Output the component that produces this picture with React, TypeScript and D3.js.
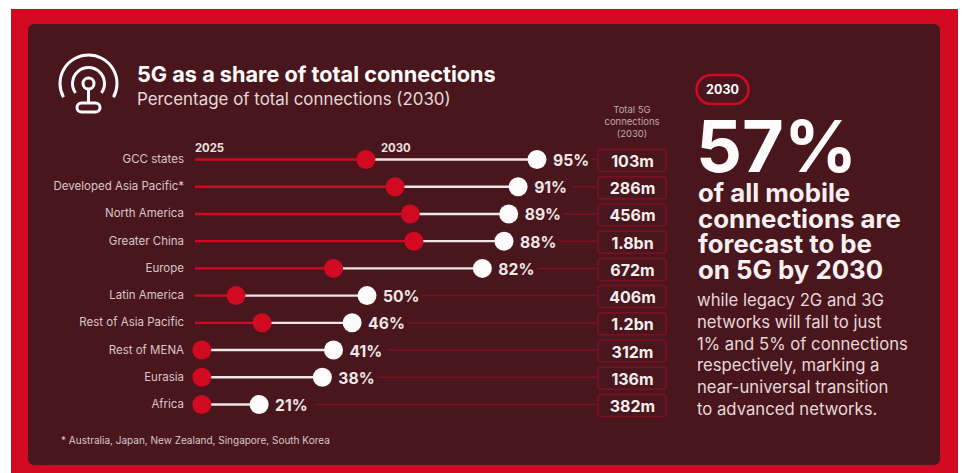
import React from "react";
import * as d3 from "d3";

const regions = ["GCC states", "Developed Asia Pacific*", "North America", "Greater China", "Europe", "Latin America", "Rest of Asia Pacific", "Rest of MENA", "Eurasia", "Africa"];
const share2025 = [49.7, 57.8, 62, 63, 41, 14.8, 21.8, 5.6, 5.6, 5.6];
const share2030 = [95, 91, 89, 88, 82, 50, 46, 41, 38, 21];
const totals2030 = ["103m", "286m", "456m", "1.8bn", "672m", "406m", "1.2bn", "312m", "136m", "382m"];
const headlineLines = ["of all mobile", "connections are", "forecast to be", "on 5G by 2030"];
const bodyLines = ["while legacy 2G and 3G", "networks will fall to just", "1% and 5% of connections", "respectively, marking a", "near-universal transition", "to advanced networks."];
const columnHeader = ["Total 5G", "connections", "(2030)"];

const RED = "#d10a22";
const PANEL = "#4a161d";
const DIM_RED = "#7c1022";
const WHITE = "#fdfbfb";
const FONT = "Inter, sans-serif";

// The track is not evenly spaced across its length, so the scale has a few stops.
const x = d3.scaleLinear().domain([0, 50, 88, 95]).range([181, 367, 504, 537]);
const y = d3.scalePoint<string>().domain(regions).range([159.5, 404.5]);
const lineStart = 195;
const boxLeft = 598;
const boxWidth = 68;
const boxHeight = 22;

const tau = Math.PI * 2;
const outerArc = d3.arc()({ innerRadius: 28.5, outerRadius: 28.5, startAngle: -tau * 0.33, endAngle: tau * 0.33 });
const innerArc = d3.arc()({ innerRadius: 16, outerRadius: 16, startAngle: -tau * 0.35, endAngle: tau * 0.35 });

function AntennaIcon() {
  return (
    <g transform="translate(88.5,83.5)" fill="none" stroke={WHITE} strokeWidth={3} strokeLinecap="round">
      <path d={outerArc ?? ""} />
      <path d={innerArc ?? ""} />
      <circle r={5.5} />
      <path d="M0,6V19" />
      <rect x={-11.5} y={19.5} width={23} height={9} rx={4.5} />
    </g>
  );
}

export default function App() {
  return (
    <svg width={962} height={473} style={{ position: "absolute", left: 0, top: 0, display: "block" }} fontFamily={FONT}>
      <rect width={962} height={473} fill="#ffffff" />
      <rect x={11} y={9} width={947} height={464} fill={RED} />
      <rect x={28} y={24} width={912} height={441} rx={6} fill={PANEL} />

      <AntennaIcon />
      <text x={137} y={82} fontSize={21.7} fontWeight={700} fill={WHITE}>5G as a share of total connections</text>
      <text x={137} y={105} fontSize={16.9} fontWeight={400} fill="#e6d8d9">Percentage of total connections (2030)</text>

      <text x={lineStart} y={152} fontSize={11.3} fontWeight={700} fill="#ece2e3">2025</text>
      <text x={381} y={152} fontSize={11.3} fontWeight={700} fill="#ece2e3">2030</text>

      {columnHeader.map((line, i) => (
        <text key={line} x={632} y={113 + i * 12} fontSize={9.5} textAnchor="middle" fill="#bda9ab">{line}</text>
      ))}

      {regions.map((region, i) => {
        const cy = y(region) ?? 0;
        const start = x(share2025[i]);
        const end = x(share2030[i]);
        return (
          <g key={region}>
            <text x={184} y={cy + 3.5} fontSize={11.5} textAnchor="end" fill="#d8c6c8">{region}</text>
            <line x1={end + 55} x2={boxLeft} y1={cy} y2={cy} stroke={DIM_RED} strokeWidth={1.5} />
            <line x1={lineStart} x2={start} y1={cy} y2={cy} stroke={RED} strokeWidth={2.4} />
            <line x1={start} x2={end} y1={cy} y2={cy} stroke="#efe6e6" strokeWidth={2.4} />
            <circle cx={start} cy={cy} r={9.5} fill={RED} />
            <circle cx={end} cy={cy} r={9.5} fill={WHITE} />
            <text x={end + 16} y={cy + 6.5} fontSize={15.7} fontWeight={700} fill="#efe6e6">{share2030[i]}%</text>
            <rect x={boxLeft} y={cy - boxHeight / 2 + 1} width={boxWidth} height={boxHeight} rx={3} fill={PANEL} stroke={DIM_RED} strokeWidth={1.5} />
            <text x={boxLeft + boxWidth / 2 + 0.5} y={cy + 7.5} fontSize={16} fontWeight={700} textAnchor="middle" fill="#f5eeee">{totals2030[i]}</text>
          </g>
        );
      })}

      <text x={61} y={444} fontSize={10} fill="#d8c6c8">* Australia, Japan, New Zealand, Singapore, South Korea</text>

      <rect x={696.5} y={75} width={52} height={29} rx={14.5} fill="none" stroke={RED} strokeWidth={2.5} />
      <text x={722.5} y={93.5} fontSize={12.5} fontWeight={700} textAnchor="middle" fill={WHITE}>2030</text>

      <text x={696} y={172} fontSize={72} fontWeight={700} fill={WHITE}>57%</text>
      {headlineLines.map((line, i) => (
        <text key={line} x={698} y={202 + i * 25.5} fontSize={25.8} fontWeight={700} fill="#f6f0f0">{line}</text>
      ))}
      {bodyLines.map((line, i) => (
        <text key={line} x={697} y={306 + i * 21.75} fontSize={16.7} fill="#e6d8d9">{line}</text>
      ))}
    </svg>
  );
}
